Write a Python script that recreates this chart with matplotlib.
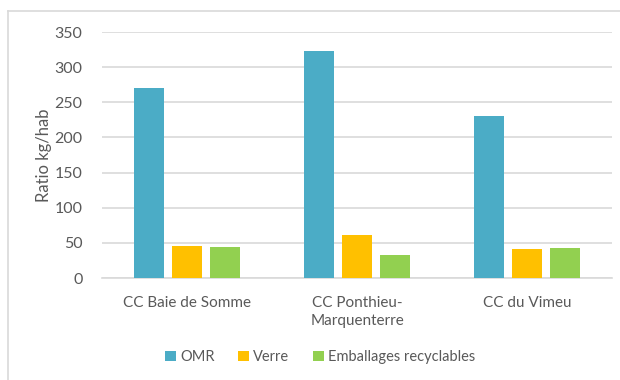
import numpy as np
import matplotlib.pyplot as plt
from matplotlib.lines import Line2D

plt.rcParams['font.family'] = ['Lato', 'DejaVu Sans']

communes = ['CC Baie de Somme', 'CC Ponthieu-\nMarquenterre', 'CC du Vimeu']
omr = [270, 323, 230]
verre = [45, 61, 41]
emballages = [44, 33, 42]

series = [('OMR', omr, '#4BACC6'),
          ('Verre', verre, '#FFC000'),
          ('Emballages recyclables', emballages, '#92D050')]

text_color = '#595959'
grid_color = '#D9D9D9'

fig = plt.figure(figsize=(6.2, 3.8), dpi=100)
ax = fig.add_axes([102 / 620, 1 - 278 / 380, 510 / 620, 246 / 380])

x = np.arange(len(communes))
width = 0.176
step = 0.224
for i, (name, values, color) in enumerate(series):
    ax.bar(x + (i - 1) * step, values, width, color=color, label=name, zorder=3)

ax.set_xlim(-0.5, len(communes) - 0.5)
ax.set_ylim(0, 350)
ax.set_yticks(range(0, 351, 50))
ax.yaxis.grid(True, color=grid_color, linewidth=1.2, zorder=0)
for side in ['top', 'right', 'left']:
    ax.spines[side].set_visible(False)
ax.spines['bottom'].set_color(grid_color)
ax.spines['bottom'].set_linewidth(1.2)

ax.set_xticks(x)
ax.set_xticklabels(communes, linespacing=1.4)
ax.tick_params(axis='x', length=0, pad=13, labelsize=11, labelcolor=text_color)
ax.tick_params(axis='y', length=0, pad=14, labelsize=11.5, labelcolor=text_color)

ax.set_ylabel('Ratio kg/hab', fontsize=12, color=text_color)
ax.yaxis.set_label_coords(-0.098, 0.5)

leg = fig.legend(loc='center', bbox_to_anchor=(320 / 620, 1 - 357 / 380), ncol=3,
                 frameon=False, fontsize=10.5, handlelength=0.75, handleheight=0.75,
                 handletextpad=0.3, columnspacing=1.6)
for t in leg.get_texts():
    t.set_color(text_color)

# light frame around the chart area
fx = 8 / 620
fy = 1 - 11 / 380
fig.add_artist(Line2D([fx, fx], [0, fy], color=grid_color, linewidth=1.2))
fig.add_artist(Line2D([fx, 1], [fy, fy], color=grid_color, linewidth=1.2))

fig.savefig('out.png', dpi=100)
